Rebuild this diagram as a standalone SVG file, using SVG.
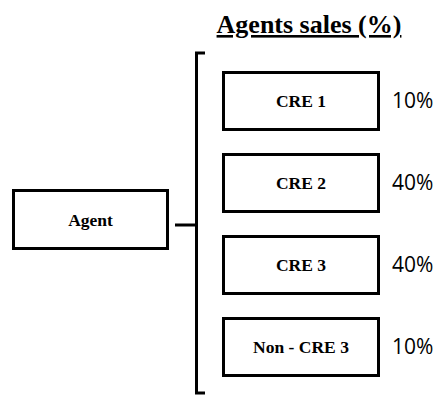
<svg xmlns="http://www.w3.org/2000/svg" width="438" height="395" viewBox="0 0 438 395">
  <style>
    .box { fill: #fff; stroke: #000; stroke-width: 3; }
    .lbl { font-family: "Liberation Serif", serif; font-weight: bold; font-size: 17.5px; text-anchor: middle; dominant-baseline: central; }
    .pct { font-family: "Open Sans", "Liberation Sans", sans-serif; font-size: 21px; dominant-baseline: central; }
    .line { fill: none; stroke: #000; stroke-width: 3; }
  </style>
  <rect width="438" height="395" fill="#fff"/>
  <text x="309" y="33" font-family="Liberation Serif, serif" font-weight="bold" font-size="26" text-anchor="middle" text-decoration="underline">Agents sales (%)</text>
  <g id="connectors">
    <path class="line" d="M205,53 H196.5 V393 H205"/>
    <path class="line" d="M175,225 H196"/>
  </g>
  <g id="agent">
    <rect class="box" x="13.5" y="190.5" width="154" height="58"/>
    <text class="lbl" x="90.5" y="220">Agent</text>
  </g>
  <g id="cre1">
    <rect class="box" x="223.5" y="72.5" width="155" height="57"/>
    <text class="lbl" x="301" y="101">CRE 1</text>
    <text class="pct" x="392" y="100">10%</text>
  </g>
  <g id="cre2">
    <rect class="box" x="223.5" y="154.5" width="155" height="57"/>
    <text class="lbl" x="301" y="183">CRE 2</text>
    <text class="pct" x="392" y="182">40%</text>
  </g>
  <g id="cre3">
    <rect class="box" x="223.5" y="236.5" width="155" height="57"/>
    <text class="lbl" x="301" y="265">CRE 3</text>
    <text class="pct" x="392" y="264">40%</text>
  </g>
  <g id="noncre3">
    <rect class="box" x="223.5" y="318.5" width="155" height="57"/>
    <text class="lbl" x="301" y="347">Non - CRE 3</text>
    <text class="pct" x="392" y="346">10%</text>
  </g>
</svg>
